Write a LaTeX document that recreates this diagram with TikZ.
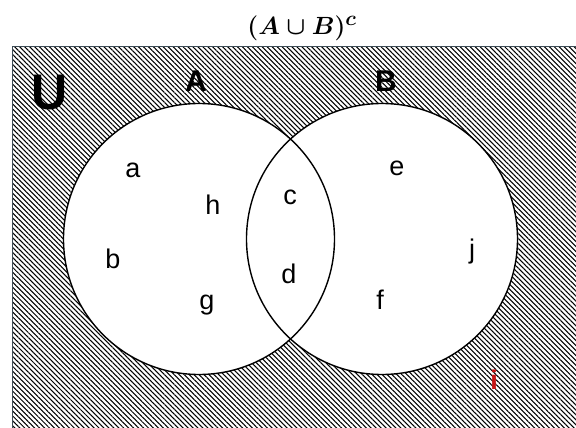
\documentclass[tikz,border=0pt]{standalone}
\usepackage{amsmath}
\usepackage{fontspec}
\setmainfont{Liberation Sans}
\usetikzlibrary{patterns.meta}
\definecolor{framecol}{RGB}{60,75,85}
\definecolor{ired}{RGB}{200,20,20}
\tikzset{
  lbl/.style={inner sep=0pt, font=\fontsize{27}{30}\selectfont},
  setlbl/.style={inner sep=0pt, font=\fontsize{30}{32}\selectfont\bfseries},
  circ/.style={line width=1.4pt, draw=black},
}
\begin{document}
\begin{tikzpicture}[x=1pt,y=-1pt]
\useasboundingbox (0,0) rectangle (576,428);
\fill[white] (0,0) rectangle (576,428);
% universe with hatching
\begin{scope}
\clip (0,0) rectangle (576,428);
\fill[white] (12,47) rectangle (580,432);
\pattern[pattern={Lines[angle=-45,distance=3.5pt,line width=1.05pt]}] (12,47) rectangle (580,432);
\draw[framecol, line width=1pt] (12,432) -- (12,47) -- (580,47);
\end{scope}
% circles
\fill[white] (199,239) circle (135.5);
\fill[white] (382,239) circle (135.5);
\draw[circ] (199,239) circle (135.5);
\draw[circ] (382,239) circle (135.5);
% title
\node[inner sep=0pt] (title) at (302,28) {\fontsize{29}{32}\selectfont$\boldsymbol{(A\cup B)^{c}}$};
% set labels
\node[inner sep=0pt, font=\fontsize{50}{52}\selectfont\bfseries] (U) at (50,93) {U};
\node[setlbl] (A) at (196,81) {A};
\node[setlbl] (B) at (386,81) {B};
% elements
\node[lbl] (a) at (133,170) {a};
\node[lbl] (h) at (213,205) {h};
\node[lbl] (c) at (290,197) {c};
\node[lbl] (b) at (113,259) {b};
\node[lbl] (d) at (289,274) {d};
\node[lbl] (g) at (207,305) {g};
\node[lbl] (e) at (397,168) {e};
\node[lbl] (j) at (472,252) {j};
\node[lbl] (f) at (380,300) {f};
\node[lbl, text=ired, font=\fontsize{27}{30}\selectfont\bfseries] (i) at (494,380) {i};
\end{tikzpicture}
\end{document}
